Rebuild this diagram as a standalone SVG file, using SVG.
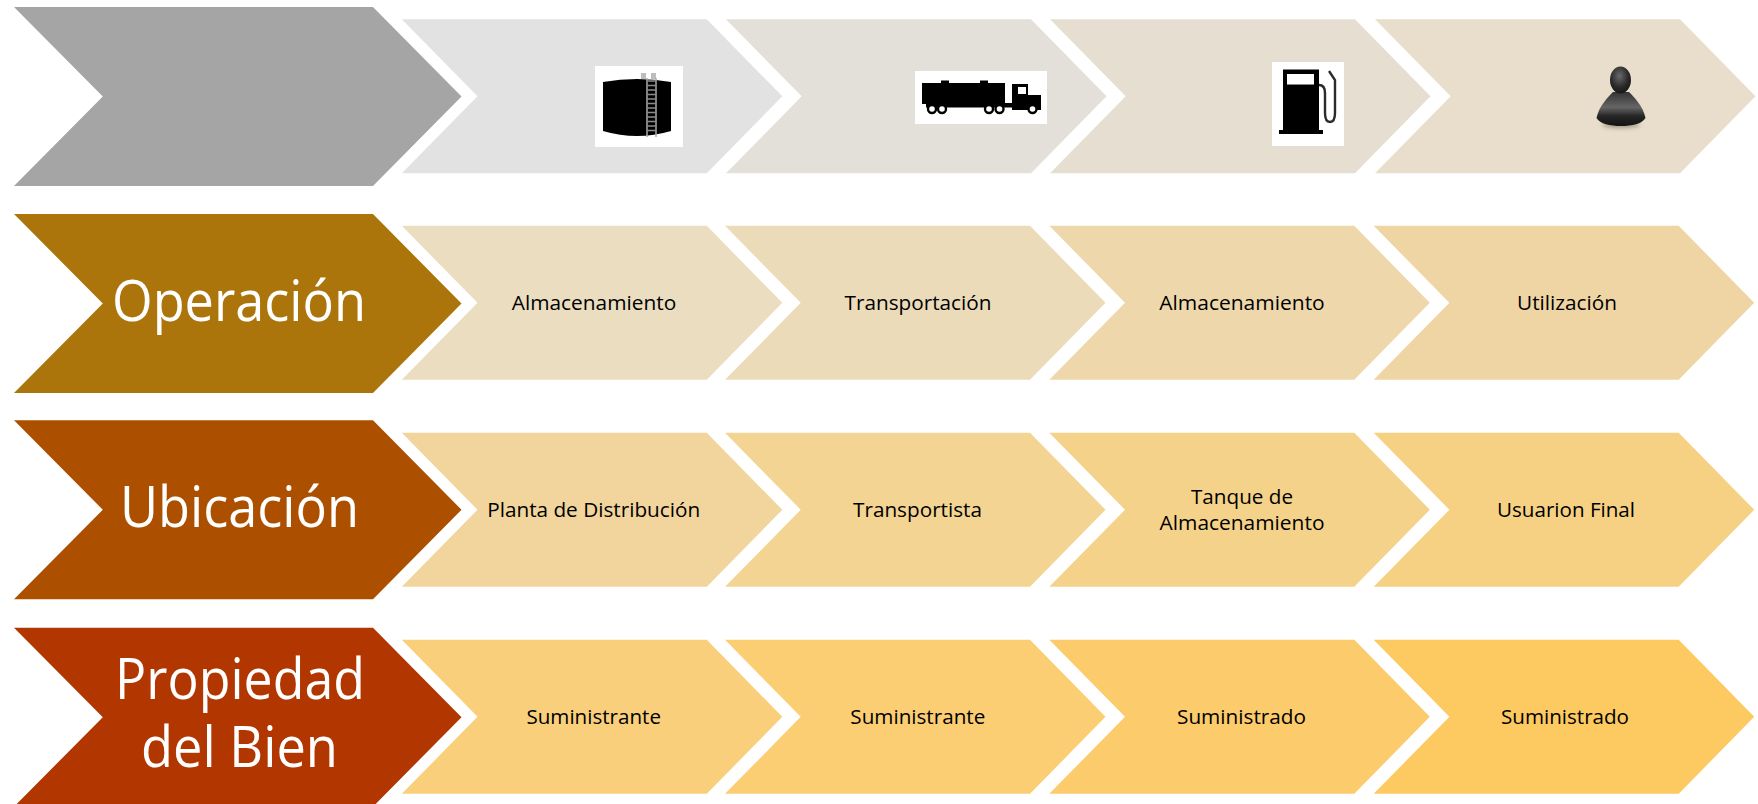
<svg xmlns="http://www.w3.org/2000/svg" width="1758" height="804" viewBox="0 0 1758 804">
<style>
text{font-family:"Open Sans","Noto Sans","Liberation Sans",sans-serif;text-anchor:middle}
.h{fill:#fff;font-size:57px}
.s{fill:#000;font-size:20.5px}
.w{fill:#fff}
.k{fill:#060606}
</style>
<defs>
<polygon id="big" points="0,0 359,0 447.500,89.500 359,179 0,179 88.800,89.500"/>
<polygon id="sm" points="0,0 305,0 380.500,77 305,154 0,154 75.700,77"/>
<filter id="soft" x="-10%" y="-10%" width="120%" height="120%"><feGaussianBlur stdDeviation="0.6"/></filter>
<filter id="shadow" x="-30%" y="-100%" width="160%" height="300%"><feGaussianBlur stdDeviation="2"/></filter>
<radialGradient id="headG" cx="0.45" cy="0.35" r="0.7"><stop offset="0" stop-color="#6a6a6a"/><stop offset="0.6" stop-color="#2a2a2a"/><stop offset="1" stop-color="#161616"/></radialGradient>
<linearGradient id="bodyG" x1="0" y1="0" x2="0" y2="1"><stop offset="0" stop-color="#333"/><stop offset="0.45" stop-color="#666"/><stop offset="0.7" stop-color="#262626"/><stop offset="1" stop-color="#141414"/></linearGradient>
</defs>

<g id="row1-head"><use href="#big" x="14" y="7" fill="#a5a5a5"/></g>
<g id="row1-tank">
<use href="#sm" x="401.800" y="19.300" fill="#e2e2e2"/>
<rect class="w" x="595" y="66" width="88" height="81"/>
<g filter="url(#soft)">
<path class="k" d="M603 82Q637 76 671 82V131Q637 141 603 131Z"/>
<rect x="641" y="73" width="5" height="6" fill="#bdbdbd"/><rect x="651" y="73" width="5" height="6" fill="#bdbdbd"/>
<path d="M647 78V137M656 78V137" stroke="#a9a9a9" stroke-width="1.500" fill="none"/>
<path d="M647 81H656M647 85.500H656M647 90H656M647 94.500H656M647 99H656M647 103.500H656M647 108H656M647 112.500H656M647 117H656M647 121.500H656M647 126H656M647 130.500H656" stroke="#8a8a8a" stroke-width="1.600" fill="none"/>
</g>
</g>
<g id="row1-truck">
<use href="#sm" x="726" y="19.300" fill="#e3dfd9"/>
<rect class="w" x="915" y="71" width="132" height="53"/>
<g filter="url(#soft)">
<path class="k" d="M922 83H941V80.500H949V83H980V80.500H988V83H1005V104H922Z"/>
<rect class="k" x="926" y="103" width="92" height="4.500"/>
<path class="k" d="M1012 84H1028V95H1041V110H1012Z"/>
<rect class="w" x="1018" y="87" width="8" height="7"/>
<g fill="#fff" stroke="#060606" stroke-width="2.400">
<circle cx="932" cy="109" r="4"/><circle cx="942" cy="109" r="4"/><circle cx="989" cy="109" r="4"/><circle cx="999.500" cy="109" r="4"/><circle cx="1032.500" cy="109" r="4"/>
</g>
</g>
</g>
<g id="row1-pump">
<use href="#sm" x="1050" y="19.300" fill="#e6dfd1"/>
<rect class="w" x="1272" y="62" width="72" height="84"/>
<g filter="url(#soft)">
<rect class="k" x="1283" y="69.500" width="36" height="60.500"/>
<rect class="k" x="1279" y="130" width="44" height="4"/>
<rect class="w" x="1287" y="74" width="27" height="10.500"/>
<path d="M1319 85Q1325 85 1325 93V113Q1325 122 1330 122Q1335 122 1335 113V80L1329 71" fill="none" stroke="#2c2c2c" stroke-width="2.400"/>
</g>
</g>
<g id="row1-user">
<use href="#sm" x="1375" y="19.300" fill="#e8decb"/>
<ellipse cx="1621" cy="125" rx="19" ry="3" fill="#5a5040" opacity="0.5" filter="url(#shadow)"/>
<path d="M1613 92C1608 97 1599 106 1596.500 118C1600 124 1610 126 1621 126C1632 126 1642 124 1645.500 118C1643 106 1634 97 1629 92Z" fill="url(#bodyG)" filter="url(#soft)"/>
<ellipse cx="1620.500" cy="80" rx="10.500" ry="13.500" fill="url(#headG)" filter="url(#soft)"/>
</g>

<g id="row2-head"><use href="#big" x="14" y="214" fill="#ab750c"/><text class="h" x="239" y="320.500" textLength="254" lengthAdjust="spacingAndGlyphs">Operación</text></g>
<g id="row2-1"><use href="#sm" x="401.800" y="225.800" fill="#ebddbf"/><text class="s" x="594" y="310" textLength="164.500" lengthAdjust="spacingAndGlyphs">Almacenamiento</text></g>
<g id="row2-2"><use href="#sm" x="725" y="225.800" fill="#ebdbb8"/><text class="s" x="918" y="310" textLength="147" lengthAdjust="spacingAndGlyphs">Transportación</text></g>
<g id="row2-3"><use href="#sm" x="1049.300" y="225.800" fill="#eed8ab"/><text class="s" x="1242" y="310" textLength="165.500" lengthAdjust="spacingAndGlyphs">Almacenamiento</text></g>
<g id="row2-4"><use href="#sm" x="1373.700" y="225.800" fill="#efd5a3"/><text class="s" x="1567" y="310" textLength="100" lengthAdjust="spacingAndGlyphs">Utilización</text></g>

<g id="row3-head"><use href="#big" x="14" y="420.300" fill="#ac5000"/><text class="h" x="239.500" y="527" textLength="239" lengthAdjust="spacingAndGlyphs">Ubicación</text></g>
<g id="row3-1"><use href="#sm" x="401.800" y="432.800" fill="#f2d59c"/><text class="s" x="593.700" y="517" textLength="213" lengthAdjust="spacingAndGlyphs">Planta de Distribución</text></g>
<g id="row3-2"><use href="#sm" x="725" y="432.800" fill="#f3d492"/><text class="s" x="917.500" y="517" textLength="129" lengthAdjust="spacingAndGlyphs">Transportista</text></g>
<g id="row3-3"><use href="#sm" x="1049.300" y="432.800" fill="#f5d289"/><text class="s" x="1242" y="503.500" textLength="102" lengthAdjust="spacingAndGlyphs">Tanque de</text><text class="s" x="1242" y="530" textLength="165" lengthAdjust="spacingAndGlyphs">Almacenamiento</text></g>
<g id="row3-4"><use href="#sm" x="1373.700" y="432.800" fill="#f6d183"/><text class="s" x="1566" y="517" textLength="138" lengthAdjust="spacingAndGlyphs">Usuarion Final</text></g>

<g id="row4-head"><use href="#big" x="14" y="627.700" fill="#b13600"/><text class="h" x="240" y="699" textLength="250" lengthAdjust="spacingAndGlyphs">Propiedad</text><text class="h" x="239.500" y="767" textLength="197" lengthAdjust="spacingAndGlyphs">del Bien</text></g>
<g id="row4-1"><use href="#sm" x="401.800" y="639.800" fill="#f9cf7c"/><text class="s" x="593.700" y="724" textLength="134.500" lengthAdjust="spacingAndGlyphs">Suministrante</text></g>
<g id="row4-2"><use href="#sm" x="725" y="639.800" fill="#fbce74"/><text class="s" x="917.800" y="724" textLength="135" lengthAdjust="spacingAndGlyphs">Suministrante</text></g>
<g id="row4-3"><use href="#sm" x="1049.300" y="639.800" fill="#fccb6c"/><text class="s" x="1241.500" y="724" textLength="129" lengthAdjust="spacingAndGlyphs">Suministrado</text></g>
<g id="row4-4"><use href="#sm" x="1373.700" y="639.800" fill="#fdc961"/><text class="s" x="1565" y="724" textLength="128" lengthAdjust="spacingAndGlyphs">Suministrado</text></g>
</svg>
